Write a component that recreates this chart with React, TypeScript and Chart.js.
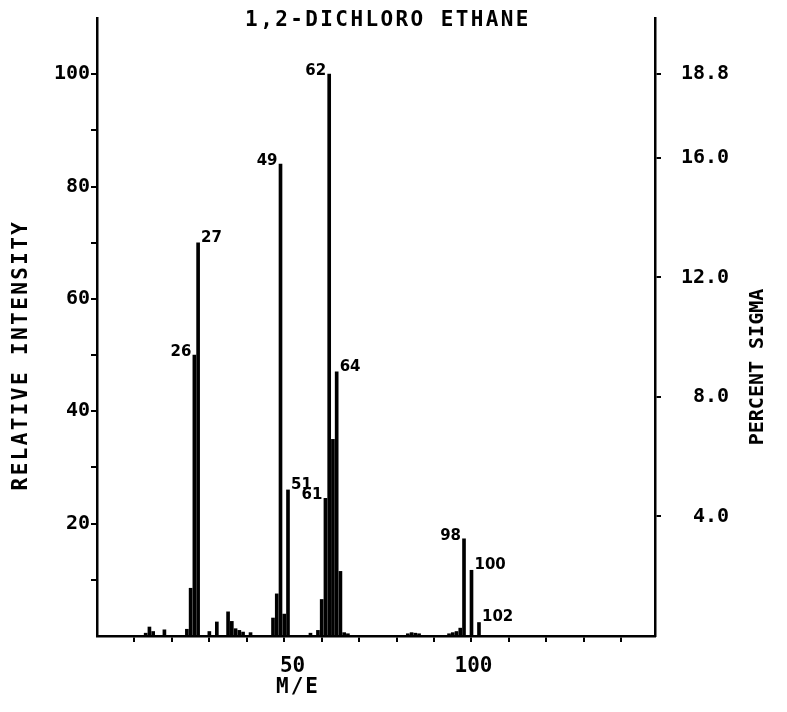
import React, { useEffect, useRef } from "react";
import { Chart, registerables } from "chart.js";

Chart.register(...registerables);

// ---- data ----
const massToCharge = [
  13, 14, 15, 18, 24, 25, 26, 27, 30, 32, 35, 36, 37, 38, 39, 41,
  47, 48, 49, 50, 51, 57, 59, 60, 61, 62, 63, 64, 65, 66, 67,
  83, 84, 85, 86, 94, 95, 96, 97, 98, 100, 102,
];
const relativeIntensity = [
  0.5, 1.6, 0.8, 1.1, 1.2, 8.5, 50, 70, 0.8, 2.5, 4.3, 2.6, 1.3, 1.0, 0.7, 0.6,
  3.2, 7.5, 84, 3.9, 26, 0.5, 1.0, 6.5, 24.5, 100, 35, 47, 11.5, 0.6, 0.4,
  0.4, 0.6, 0.5, 0.4, 0.4, 0.6, 0.8, 1.4, 17.3, 11.7, 2.4,
];
const labeledPeaks = [26, 27, 49, 51, 61, 62, 64, 98, 100, 102];
const labelSides = ["left", "right", "left", "right", "left", "left", "right", "left", "right", "right"];

const intensityTicks = [10, 20, 30, 40, 50, 60, 70, 80, 90, 100];
const intensityTickLabels = [20, 40, 60, 80, 100];
const sigmaTicks = [4.0, 8.0, 12.0, 16.0, 18.8];
const massTicks = [10, 20, 30, 40, 50, 60, 70, 80, 90, 100, 110, 120, 130, 140];
const massTickLabels = [50, 100];

const chartTitle = "1,2-DICHLORO ETHANE";
const yTitle = "RELATIVE INTENSITY";
const y2Title = "PERCENT SIGMA";
const xTitle = "M/E";

const Y_MAX = 110;
const SIGMA_PER_INTENSITY = 0.188;
const X_MAX = 149;

const MONO = "'DejaVu Sans Mono', monospace";

const textPlugin = {
  id: "plotterText",
  afterDatasetsDraw(chart: any) {
    const { ctx, scales } = chart;
    const x = scales.x;
    const y = scales.y;
    ctx.save();
    ctx.fillStyle = "#000";
    // peak labels
    ctx.font = "bold 15px 'DejaVu Sans', sans-serif";
    ctx.textBaseline = "middle";
    labeledPeaks.forEach((m, i) => {
      const idx = massToCharge.indexOf(m);
      if (idx < 0) return;
      const px = x.getPixelForValue(m);
      const py = y.getPixelForValue(relativeIntensity[idx]);
      if (labelSides[i] === "left") {
        ctx.textAlign = "right";
        ctx.fillText(String(m), px - 3, py - 3);
      } else {
        ctx.textAlign = "left";
        ctx.fillText(String(m), px + 3, py - 5);
      }
    });
    // chart title
    ctx.font = `bold 21px ${MONO}`;
    (ctx as any).letterSpacing = "2.4px";
    ctx.textAlign = "center";
    ctx.fillText(chartTitle, 388, 21);
    // x title
    (ctx as any).letterSpacing = "2px";
    ctx.fillText(xTitle, 298, 688);
    // y title
    ctx.save();
    ctx.translate(22, 355);
    ctx.rotate(-Math.PI / 2);
    (ctx as any).letterSpacing = "2.4px";
    ctx.fillText(yTitle, 0, 0);
    ctx.restore();
    // y2 title
    ctx.save();
    ctx.translate(758, 367);
    ctx.rotate(-Math.PI / 2);
    (ctx as any).letterSpacing = "0px";
    ctx.font = `bold 20px ${MONO}`;
    ctx.fillText(y2Title, 0, 0);
    ctx.restore();
    (ctx as any).letterSpacing = "0px";
    ctx.restore();
  },
};

const noPad = (s: any) => {
  s.paddingTop = 0;
  s.paddingBottom = 0;
  s.paddingLeft = 0;
  s.paddingRight = 0;
};

export default function App() {
  const canvasRef = useRef<HTMLCanvasElement | null>(null);

  useEffect(() => {
    const canvas = canvasRef.current;
    if (!canvas) return;
    const tickFont = { family: MONO, size: 20, weight: "bold" as const };
    const chart = new Chart(canvas, {
      type: "bar",
      data: {
        datasets: [
          {
            label: "Relative intensity",
            data: massToCharge.map((m, i) => ({ x: m, y: relativeIntensity[i] })),
            backgroundColor: "#000",
            borderWidth: 0,
            barThickness: 3,
            grouped: false,
            xAxisID: "x",
            yAxisID: "y",
          },
        ],
      },
      options: {
        responsive: false,
        animation: false,
        devicePixelRatio: 1,
        layout: { padding: { top: 18, left: 0, right: 0, bottom: 0 } },
        plugins: { legend: { display: false }, tooltip: { enabled: false }, title: { display: false } },
        scales: {
          x: {
            type: "linear",
            position: "bottom",
            min: 0,
            max: X_MAX,
            offset: false,
            afterBuildTicks: (s: any) => {
              s.ticks = massTicks.map((v) => ({ value: v }));
            },
            afterFit: (s: any) => {
              s.height = 76;
              noPad(s);
            },
            grid: { offset: false, drawOnChartArea: false, drawTicks: true, tickLength: 6, color: "#000", lineWidth: 2 },
            border: { display: true, color: "#000", width: 2.5 },
            ticks: {
              autoSkip: false,
              maxRotation: 0,
              padding: 12,
              labelOffset: 2,
              color: "#000",
              font: { ...tickFont, size: 21 },
              callback: (v: any) => (massTickLabels.includes(Number(v)) ? String(v).padStart(3, " ") : ""),
            },
          },
          y: {
            type: "linear",
            position: "left",
            min: 0,
            max: Y_MAX,
            afterBuildTicks: (s: any) => {
              s.ticks = intensityTicks.map((v) => ({ value: v }));
            },
            afterFit: (s: any) => {
              s.width = 97;
              noPad(s);
            },
            grid: { drawOnChartArea: false, drawTicks: true, tickLength: 6, color: "#000", lineWidth: 2 },
            border: { display: true, color: "#000", width: 2.5 },
            ticks: {
              autoSkip: false,
              padding: 1,
              color: "#000",
              font: tickFont,
              callback: (v: any) => (intensityTickLabels.includes(Number(v)) ? String(v) : ""),
            },
          },
          y2: {
            type: "linear",
            position: "right",
            display: true,
            min: 0,
            max: Y_MAX * SIGMA_PER_INTENSITY,
            afterBuildTicks: (s: any) => {
              s.ticks = sigmaTicks.map((v) => ({ value: v }));
            },
            afterFit: (s: any) => {
              s.width = 132;
              noPad(s);
            },
            grid: { drawOnChartArea: false, drawTicks: true, tickLength: 6, color: "#000", lineWidth: 2 },
            border: { display: true, color: "#000", width: 2.5 },
            ticks: {
              autoSkip: false,
              padding: 20,
              crossAlign: "near",
              color: "#000",
              font: tickFont,
              callback: (v: any) => Number(v).toFixed(1).padStart(4, " "),
            },
          },
        },
      },
      plugins: [textPlugin],
    });
    return () => chart.destroy();
  }, []);

  return (
    <div style={{ position: "fixed", left: 0, top: 0, width: 787, height: 712, background: "#fff" }}>
      <canvas ref={canvasRef} width={787} height={712} />
    </div>
  );
}
